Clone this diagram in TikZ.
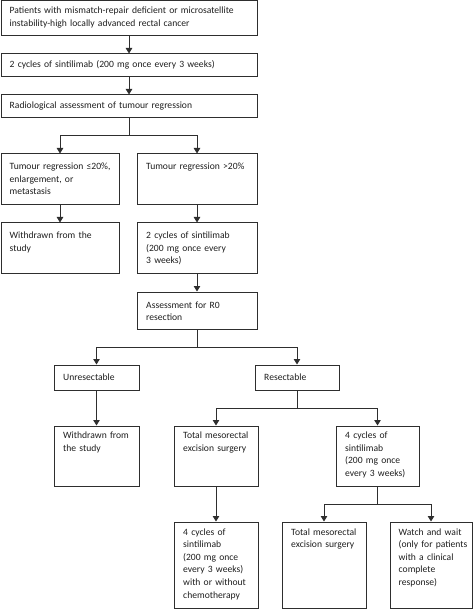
\documentclass[tikz,border=0pt]{standalone}
\usepackage{fontspec}
\setmainfont{Carlito}
\usetikzlibrary{arrows.meta,fit}
\definecolor{ln}{HTML}{2E2E2E}
\definecolor{tx}{HTML}{1E1E1E}
\tikzset{
  box/.style={draw=ln, line width=1pt, inner sep=0pt, rectangle},
  txt/.style={anchor=base west, inner sep=0pt, text width=300pt, align=left, text=tx,
              font=\fontsize{9.6}{12.6}\selectfont},
  arr/.style={draw=ln, line width=1pt, -{Triangle[width=6.5pt,length=5.5pt]}},
  ln/.style={draw=ln, line width=1pt}
}
\begin{document}
\begin{tikzpicture}[x=1pt,y=-1pt]
\useasboundingbox (0,0) rectangle (474,609);
% boxes
\node[box, fit={(1,1)(257,36)}] (b1) {};
\node[box, fit={(1,54)(257,77)}] (b2) {};
\node[box, fit={(1,95)(257,118)}] (b3) {};
\node[box, fit={(1,154)(119,205)}] (b4l) {};
\node[box, fit={(137,154)(257,205)}] (b4r) {};
\node[box, fit={(1,223)(119,273)}] (b5l) {};
\node[box, fit={(137,223)(257,273)}] (b5r) {};
\node[box, fit={(137,292)(257,329)}] (b6) {};
\node[box, fit={(54,365)(139,390)}] (bu) {};
\node[box, fit={(255,365)(339,390)}] (br) {};
\node[box, fit={(54,426)(139,486)}] (bw) {};
\node[box, fit={(174,426)(258,486)}] (bt1) {};
\node[box, fit={(336,426)(419,486)}] (bc1) {};
\node[box, fit={(174,522)(258,608)}] (bc2) {};
\node[box, fit={(282,522)(366,608)}] (bt2) {};
\node[box, fit={(390,522)(472,608)}] (bww) {};
% texts
\node[txt] (t1) at (9.5,13.5) {Patients with mismatch-repair deficient or microsatellite\\instability-high locally advanced rectal cancer};
\node[txt] (t2) at (9.5,67.5) {2 cycles of sintilimab (200 mg once every 3 weeks)};
\node[txt] (t3) at (9.5,108.5) {Radiological assessment of tumour regression};
\node[txt] (t4l) at (9.5,169.5) {Tumour regression ≤20\%,\\enlargement, or\\metastasis};
\node[txt] (t4r) at (146,169.5) {Tumour regression >20\%};
\node[txt] (t5l) at (9.5,238.5) {Withdrawn from the\\study};
\node[txt] (t5r) at (146,238.5) {2 cycles of sintilimab\\(200 mg once every\\3 weeks)};
\node[txt] (t6) at (146,308) {Assessment for R0\\resection};
\node[txt] (tu) at (63,380) {Unresectable};
\node[txt] (tr) at (264,380) {Resectable};
\node[txt] (tw) at (63,438.5) {Withdrawn from\\the study};
\node[txt] (tt1) at (183,438.5) {Total mesorectal\\excision surgery};
\node[txt] (tc1) at (345,438.5) {4 cycles of\\sintilimab\\(200 mg once\\every 3 weeks)};
\node[txt] (tc2) at (183,535) {4 cycles of\\sintilimab\\(200 mg once\\every 3 weeks)\\with or without\\chemotherapy};
\node[txt] (tt2) at (291,535) {Total mesorectal\\excision surgery};
\node[txt] (tww) at (398.5,535) {Watch and wait\\(only for patients\\with a clinical\\complete\\response)};
% split points
\coordinate (s1) at (b3.south |- 0,136);
\coordinate (s2) at (b6.south |- 0,347);
\coordinate (s3) at (br.south |- 0,408);
\coordinate (s4) at (bc1.south |- 0,504);
% connectors
\draw[arr] (b1) -- (b2);
\draw[arr] (b2) -- (b3);
\draw[ln] (b3.south) -- (s1);
\draw[arr] (s1) -| (b4l.north);
\draw[arr] (s1) -| (b4r.north);
\draw[arr] (b4l) -- (b5l);
\draw[arr] (b4r) -- (b5r);
\draw[arr] (b5r) -- (b6);
\draw[ln] (b6.south) -- (s2);
\draw[arr] (s2) -| (bu.north);
\draw[arr] (s2) -| (br.north);
\draw[arr] (bu) -- (bw);
\draw[ln] (br.south) -- (s3);
\draw[arr] (s3) -| (bt1.north);
\draw[arr] (s3) -| (bc1.north);
\draw[arr] (bt1) -- (bc2);
\draw[ln] (bc1.south) -- (s4);
\draw[arr] (s4) -| (bt2.north);
\draw[arr] (s4) -| (bww.north);
\end{tikzpicture}
\end{document}
